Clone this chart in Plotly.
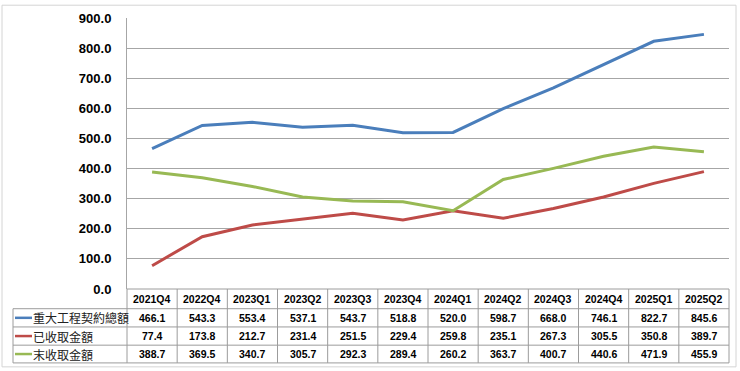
import plotly.graph_objects as go

quarters = ["2021Q4", "2022Q4", "2023Q1", "2023Q2", "2023Q3", "2023Q4",
            "2024Q1", "2024Q2", "2024Q3", "2024Q4", "2025Q1", "2025Q2"]
contract_total = [466.1, 543.3, 553.4, 537.1, 543.7, 518.8, 520.0, 598.7, 668.0, 746.1, 822.7, 845.6]
collected = [77.4, 173.8, 212.7, 231.4, 251.5, 229.4, 259.8, 235.1, 267.3, 305.5, 350.8, 389.7]
uncollected = [388.7, 369.5, 340.7, 305.7, 292.3, 289.4, 260.2, 363.7, 400.7, 440.6, 471.9, 455.9]
series_names = ["重大工程契約總額", "已收取金額", "末收取金額"]
y_ticks = [0, 100, 200, 300, 400, 500, 600, 700, 800, 900]

colors = ["#4A7EBB", "#BE4B48", "#98B954"]
series = [contract_total, collected, uncollected]

W, H = 740, 371
L, R, T, B = 127, 11, 14, 82
PW = W - L - R
PH = H - T - B
grid_col = "#A6A6A6"
tbl_col = "#9C9C9C"


def px_x(px):
    return (px - L) / PW


def px_y(py):
    return (H - B - py) / PH


fig = go.Figure()
for name, vals, col in zip(series_names, series, colors):
    fig.add_trace(go.Scatter(x=quarters, y=vals, name=name, mode="lines",
                             line=dict(color=col, width=3), showlegend=False))

shapes = []
annotations = []

# table geometry (pixels)
top0 = H - B
row_edges = [top0, top0 + 20, top0 + 38.5, top0 + 57, top0 + 75]
left_px = 13

# horizontal lines
shapes.append(dict(type="line", xref="paper", yref="paper", x0=0, x1=1,
                   y0=px_y(row_edges[0]), y1=px_y(row_edges[0]),
                   line=dict(color=tbl_col, width=1)))
for r in row_edges[1:]:
    shapes.append(dict(type="line", xref="paper", yref="paper", x0=px_x(left_px), x1=1,
                       y0=px_y(r), y1=px_y(r), line=dict(color=tbl_col, width=1)))
# vertical lines
shapes.append(dict(type="line", xref="paper", yref="paper", x0=px_x(left_px), x1=px_x(left_px),
                   y0=px_y(row_edges[1]), y1=px_y(row_edges[-1]), line=dict(color=tbl_col, width=1)))
n = len(quarters)
for i in range(n + 1):
    xx = i / n
    shapes.append(dict(type="line", xref="paper", yref="paper", x0=xx, x1=xx,
                       y0=px_y(row_edges[0]), y1=px_y(row_edges[-1]), line=dict(color=tbl_col, width=1)))

# header text
for q in quarters:
    annotations.append(dict(x=q, xref="x", y=px_y((row_edges[0] + row_edges[1]) / 2), yref="paper",
                            text=q, showarrow=False, xanchor="center", yanchor="middle",
                            font=dict(family="Liberation Sans", size=10.5, color="#000", weight="bold")))

# rows
for k, (name, vals, col) in enumerate(zip(series_names, series, colors)):
    yc = px_y((row_edges[k + 1] + row_edges[k + 2]) / 2)
    shapes.append(dict(type="line", xref="paper", yref="paper", x0=px_x(15), x1=px_x(32),
                       y0=yc, y1=yc, line=dict(color=col, width=2.5)))
    annotations.append(dict(x=px_x(31), xref="paper", y=yc, yref="paper", text=name,
                            showarrow=False, xanchor="left", yanchor="middle",
                            font=dict(family="Noto Sans CJK TC", size=12, color="#222")))
    for q, v in zip(quarters, vals):
        annotations.append(dict(x=q, xref="x", y=yc, yref="paper", text=f"{v:.1f}",
                                showarrow=False, xanchor="center", yanchor="middle",
                                font=dict(family="Liberation Sans", size=10.5, color="#000", weight="bold")))

# outer chart border
shapes.append(dict(type="rect", xref="paper", yref="paper", x0=px_x(2), x1=px_x(736),
                   y0=px_y(368), y1=px_y(1), line=dict(color="#D4D4D4", width=1)))

fig.update_layout(
    width=W, height=H,
    margin=dict(l=L, r=R, t=T, b=B),
    paper_bgcolor="white", plot_bgcolor="white",
    shapes=shapes, annotations=annotations,
    hovermode=False,
    xaxis=dict(type="category", range=[-0.5, n - 0.5], showticklabels=False,
               showgrid=False, zeroline=False, showline=False, ticks=""),
    yaxis=dict(range=[0, 900], tickvals=y_ticks, tickformat=".1f",
               showgrid=True, gridcolor=grid_col, gridwidth=1, zeroline=False,
               showline=True, linecolor=grid_col, linewidth=1, ticks="",
               ticklabelstandoff=12,
               tickfont=dict(family="Liberation Sans", size=13, color="#000", weight="bold")),
)

fig.write_html("out.html", config={"displayModeBar": False},
               post_script="document.body.style.margin='0';document.body.style.overflow='hidden';")
